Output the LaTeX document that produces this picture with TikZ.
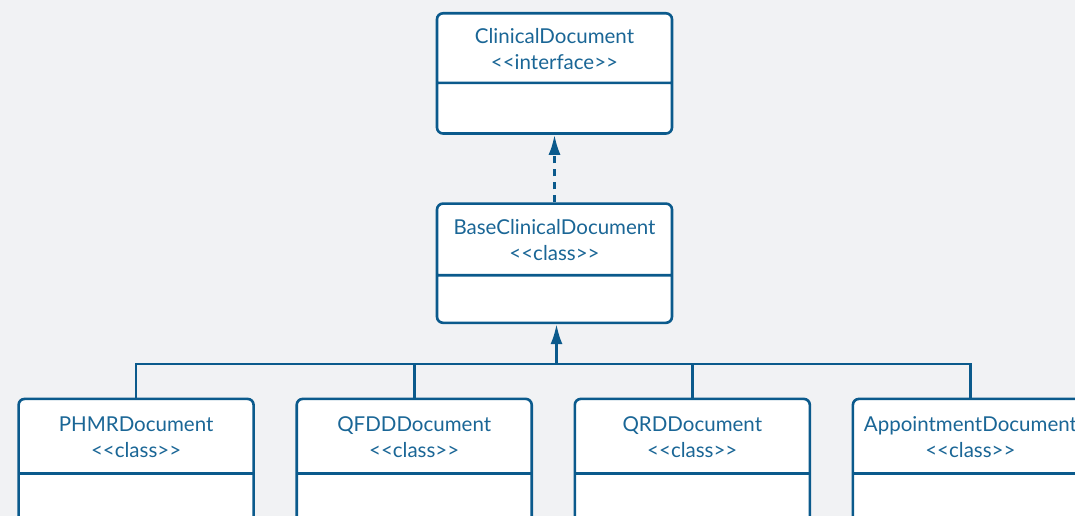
\documentclass[tikz,border=0pt]{standalone}
\usepackage{fontspec}
\setmainfont{Lato}
\usepackage{tikz}
\usetikzlibrary{arrows.meta}
\usetikzlibrary{shapes.multipart}
\usetikzlibrary{calc}
\usetikzlibrary{positioning}

\definecolor{umlline}{HTML}{0B5A8C}
\definecolor{umltext}{HTML}{1A6696}
\definecolor{umlbg}{HTML}{F1F2F4}

\tikzset{
	umlclass/.style={rectangle split, rectangle split parts=2, draw=umlline, line width=2.6pt,
		rounded corners=6pt, fill=white, minimum width=235pt, inner sep=0pt,
		text=umltext, font=\fontsize{20.5}{26}\selectfont},
	realizes/.style={draw=umlline, line width=2.6pt, dash pattern=on 7pt off 6pt,
		-{Latex[length=20pt,width=12pt]}},
	inherits/.style={draw=umlline, line width=2.6pt, -{Latex[length=20pt,width=12pt]}},
	bus/.style={draw=umlline, line width=2.6pt}
}

\newcommand{\umltitle}[4]{\parbox[c][#1][c]{235pt}{\centering\vspace*{2pt}#3\\#4}\nodepart{two}\rule{0pt}{#2}}

\begin{document}
\begin{tikzpicture}[x=1pt,y=1pt]
	\useasboundingbox (0,0) rectangle (1075,-516);
	\fill[umlbg] (0,0) rectangle (1075,-516);
	\clip (0,0) rectangle (1075,-516);

	\node[umlclass, anchor=north] (Clinical) at (554.5,-12) {\umltitle{67pt}{48pt}{ClinicalDocument}{<{}<interface>{}>}};
	\node[umlclass] (Base) [below=67.5pt of Clinical] {\umltitle{69pt}{45pt}{BaseClinicalDocument}{<{}<class>{}>}};

	\node[umlclass] (QFDD) [below left=73.5pt and 21.5pt of Base.south] {\umltitle{72pt}{48pt}{QFDDDocument}{<{}<class>{}>}};
	\node[umlclass] (PHMR) [left=40.5pt of QFDD] {\umltitle{72pt}{48pt}{PHMRDocument}{<{}<class>{}>}};
	\node[umlclass] (QRD) [right=40.5pt of QFDD] {\umltitle{72pt}{48pt}{QRDDocument}{<{}<class>{}>}};
	\node[umlclass] (Appointment) [right=40.5pt of QRD] {\umltitle{72pt}{48pt}{AppointmentDocument}{<{}<class>{}>}};

	\coordinate (junction) at ($(Base.south)+(2,-40)$);

	\draw[realizes] (Base.north) -- (Clinical.south);
	\draw[bus] (PHMR.north) |- (junction);
	\draw[bus] (QFDD.north) |- (junction);
	\draw[bus] (QRD.north) |- (junction);
	\draw[bus] (Appointment.north) |- (junction);
	\draw[inherits] (junction) -- (junction |- Base.south);
\end{tikzpicture}
\end{document}
